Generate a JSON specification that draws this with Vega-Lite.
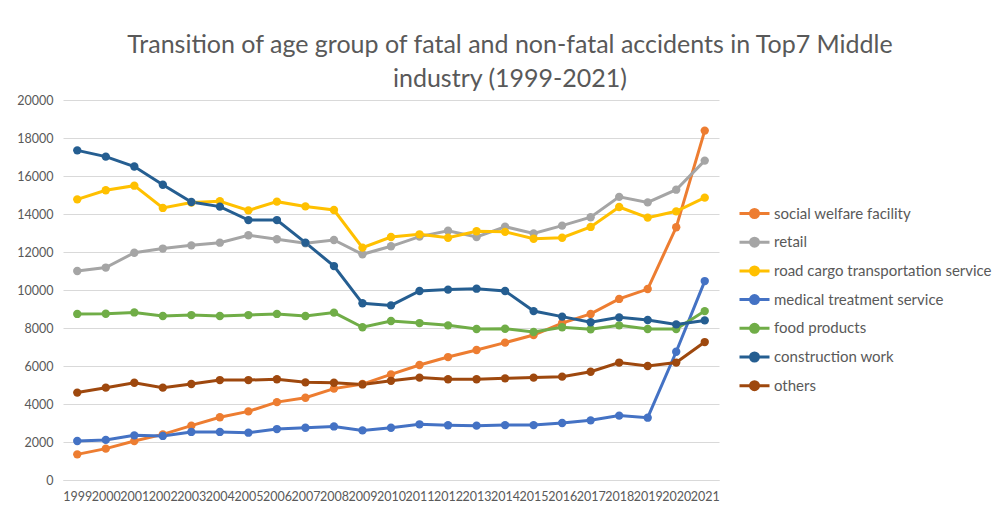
{
  "$schema": "https://vega.github.io/schema/vega-lite/v6.json",
  "autosize": "none",
  "width": 656,
  "height": 380,
  "padding": {"left": 63, "top": 100, "right": 281, "bottom": 33},
  "background": "white",
  "title": {
    "text": ["Transition of age group of fatal and non-fatal accidents in Top7 Middle", "industry (1999-2021)"],
    "anchor": "middle",
    "dx": 119,
    "offset": 2,
    "font": "Lato",
    "fontSize": 25,
    "fontWeight": "normal",
    "color": "#595959",
    "lineHeight": 34
  },
  "data": {
    "values": [
      {"year":"1999","industry":"social welfare facility","value":1350},
      {"year":"2000","industry":"social welfare facility","value":1650},
      {"year":"2001","industry":"social welfare facility","value":2050},
      {"year":"2002","industry":"social welfare facility","value":2400},
      {"year":"2003","industry":"social welfare facility","value":2860},
      {"year":"2004","industry":"social welfare facility","value":3300},
      {"year":"2005","industry":"social welfare facility","value":3610},
      {"year":"2006","industry":"social welfare facility","value":4100},
      {"year":"2007","industry":"social welfare facility","value":4330},
      {"year":"2008","industry":"social welfare facility","value":4810},
      {"year":"2009","industry":"social welfare facility","value":5050},
      {"year":"2010","industry":"social welfare facility","value":5560},
      {"year":"2011","industry":"social welfare facility","value":6050},
      {"year":"2012","industry":"social welfare facility","value":6470},
      {"year":"2013","industry":"social welfare facility","value":6840},
      {"year":"2014","industry":"social welfare facility","value":7230},
      {"year":"2015","industry":"social welfare facility","value":7630},
      {"year":"2016","industry":"social welfare facility","value":8260},
      {"year":"2017","industry":"social welfare facility","value":8740},
      {"year":"2018","industry":"social welfare facility","value":9530},
      {"year":"2019","industry":"social welfare facility","value":10050},
      {"year":"2020","industry":"social welfare facility","value":13300},
      {"year":"2021","industry":"social welfare facility","value":18390},
      {"year":"1999","industry":"retail","value":11000},
      {"year":"2000","industry":"retail","value":11180},
      {"year":"2001","industry":"retail","value":11960},
      {"year":"2002","industry":"retail","value":12180},
      {"year":"2003","industry":"retail","value":12350},
      {"year":"2004","industry":"retail","value":12490},
      {"year":"2005","industry":"retail","value":12880},
      {"year":"2006","industry":"retail","value":12670},
      {"year":"2007","industry":"retail","value":12460},
      {"year":"2008","industry":"retail","value":12630},
      {"year":"2009","industry":"retail","value":11880},
      {"year":"2010","industry":"retail","value":12300},
      {"year":"2011","industry":"retail","value":12810},
      {"year":"2012","industry":"retail","value":13120},
      {"year":"2013","industry":"retail","value":12790},
      {"year":"2014","industry":"retail","value":13330},
      {"year":"2015","industry":"retail","value":12980},
      {"year":"2016","industry":"retail","value":13390},
      {"year":"2017","industry":"retail","value":13830},
      {"year":"2018","industry":"retail","value":14900},
      {"year":"2019","industry":"retail","value":14610},
      {"year":"2020","industry":"retail","value":15280},
      {"year":"2021","industry":"retail","value":16810},
      {"year":"1999","industry":"road cargo transportation service","value":14770},
      {"year":"2000","industry":"road cargo transportation service","value":15250},
      {"year":"2001","industry":"road cargo transportation service","value":15490},
      {"year":"2002","industry":"road cargo transportation service","value":14320},
      {"year":"2003","industry":"road cargo transportation service","value":14600},
      {"year":"2004","industry":"road cargo transportation service","value":14670},
      {"year":"2005","industry":"road cargo transportation service","value":14190},
      {"year":"2006","industry":"road cargo transportation service","value":14650},
      {"year":"2007","industry":"road cargo transportation service","value":14400},
      {"year":"2008","industry":"road cargo transportation service","value":14210},
      {"year":"2009","industry":"road cargo transportation service","value":12230},
      {"year":"2010","industry":"road cargo transportation service","value":12790},
      {"year":"2011","industry":"road cargo transportation service","value":12930},
      {"year":"2012","industry":"road cargo transportation service","value":12750},
      {"year":"2013","industry":"road cargo transportation service","value":13090},
      {"year":"2014","industry":"road cargo transportation service","value":13060},
      {"year":"2015","industry":"road cargo transportation service","value":12700},
      {"year":"2016","industry":"road cargo transportation service","value":12750},
      {"year":"2017","industry":"road cargo transportation service","value":13320},
      {"year":"2018","industry":"road cargo transportation service","value":14370},
      {"year":"2019","industry":"road cargo transportation service","value":13810},
      {"year":"2020","industry":"road cargo transportation service","value":14140},
      {"year":"2021","industry":"road cargo transportation service","value":14860},
      {"year":"1999","industry":"medical treatment service","value":2050},
      {"year":"2000","industry":"medical treatment service","value":2110},
      {"year":"2001","industry":"medical treatment service","value":2350},
      {"year":"2002","industry":"medical treatment service","value":2320},
      {"year":"2003","industry":"medical treatment service","value":2530},
      {"year":"2004","industry":"medical treatment service","value":2530},
      {"year":"2005","industry":"medical treatment service","value":2490},
      {"year":"2006","industry":"medical treatment service","value":2680},
      {"year":"2007","industry":"medical treatment service","value":2750},
      {"year":"2008","industry":"medical treatment service","value":2820},
      {"year":"2009","industry":"medical treatment service","value":2610},
      {"year":"2010","industry":"medical treatment service","value":2750},
      {"year":"2011","industry":"medical treatment service","value":2930},
      {"year":"2012","industry":"medical treatment service","value":2880},
      {"year":"2013","industry":"medical treatment service","value":2860},
      {"year":"2014","industry":"medical treatment service","value":2890},
      {"year":"2015","industry":"medical treatment service","value":2890},
      {"year":"2016","industry":"medical treatment service","value":3000},
      {"year":"2017","industry":"medical treatment service","value":3140},
      {"year":"2018","industry":"medical treatment service","value":3390},
      {"year":"2019","industry":"medical treatment service","value":3280},
      {"year":"2020","industry":"medical treatment service","value":6750},
      {"year":"2021","industry":"medical treatment service","value":10470},
      {"year":"1999","industry":"food products","value":8740},
      {"year":"2000","industry":"food products","value":8750},
      {"year":"2001","industry":"food products","value":8820},
      {"year":"2002","industry":"food products","value":8630},
      {"year":"2003","industry":"food products","value":8680},
      {"year":"2004","industry":"food products","value":8630},
      {"year":"2005","industry":"food products","value":8680},
      {"year":"2006","industry":"food products","value":8740},
      {"year":"2007","industry":"food products","value":8630},
      {"year":"2008","industry":"food products","value":8810},
      {"year":"2009","industry":"food products","value":8040},
      {"year":"2010","industry":"food products","value":8370},
      {"year":"2011","industry":"food products","value":8260},
      {"year":"2012","industry":"food products","value":8140},
      {"year":"2013","industry":"food products","value":7950},
      {"year":"2014","industry":"food products","value":7960},
      {"year":"2015","industry":"food products","value":7790},
      {"year":"2016","industry":"food products","value":8040},
      {"year":"2017","industry":"food products","value":7930},
      {"year":"2018","industry":"food products","value":8140},
      {"year":"2019","industry":"food products","value":7950},
      {"year":"2020","industry":"food products","value":7950},
      {"year":"2021","industry":"food products","value":8890},
      {"year":"1999","industry":"construction work","value":17350},
      {"year":"2000","industry":"construction work","value":17020},
      {"year":"2001","industry":"construction work","value":16500},
      {"year":"2002","industry":"construction work","value":15540},
      {"year":"2003","industry":"construction work","value":14630},
      {"year":"2004","industry":"construction work","value":14390},
      {"year":"2005","industry":"construction work","value":13680},
      {"year":"2006","industry":"construction work","value":13680},
      {"year":"2007","industry":"construction work","value":12490},
      {"year":"2008","industry":"construction work","value":11260},
      {"year":"2009","industry":"construction work","value":9300},
      {"year":"2010","industry":"construction work","value":9190},
      {"year":"2011","industry":"construction work","value":9950},
      {"year":"2012","industry":"construction work","value":10020},
      {"year":"2013","industry":"construction work","value":10070},
      {"year":"2014","industry":"construction work","value":9950},
      {"year":"2015","industry":"construction work","value":8890},
      {"year":"2016","industry":"construction work","value":8600},
      {"year":"2017","industry":"construction work","value":8300},
      {"year":"2018","industry":"construction work","value":8560},
      {"year":"2019","industry":"construction work","value":8420},
      {"year":"2020","industry":"construction work","value":8190},
      {"year":"2021","industry":"construction work","value":8400},
      {"year":"1999","industry":"others","value":4600},
      {"year":"2000","industry":"others","value":4860},
      {"year":"2001","industry":"others","value":5120},
      {"year":"2002","industry":"others","value":4860},
      {"year":"2003","industry":"others","value":5050},
      {"year":"2004","industry":"others","value":5260},
      {"year":"2005","industry":"others","value":5260},
      {"year":"2006","industry":"others","value":5300},
      {"year":"2007","industry":"others","value":5140},
      {"year":"2008","industry":"others","value":5120},
      {"year":"2009","industry":"others","value":5030},
      {"year":"2010","industry":"others","value":5220},
      {"year":"2011","industry":"others","value":5390},
      {"year":"2012","industry":"others","value":5300},
      {"year":"2013","industry":"others","value":5300},
      {"year":"2014","industry":"others","value":5350},
      {"year":"2015","industry":"others","value":5390},
      {"year":"2016","industry":"others","value":5440},
      {"year":"2017","industry":"others","value":5700},
      {"year":"2018","industry":"others","value":6180},
      {"year":"2019","industry":"others","value":6000},
      {"year":"2020","industry":"others","value":6180},
      {"year":"2021","industry":"others","value":7260}
    ]
  },
  "mark": {"type": "line", "strokeWidth": 3, "point": {"filled": true, "size": 70}},
  "encoding": {
    "x": {
      "field": "year", "type": "ordinal",
      "scale": {"type": "point", "padding": 0.5},
      "axis": {
        "title": null, "labelAngle": 0, "ticks": false, "labelPadding": 10,
        "labelFont": "Lato", "labelFontSize": 12.5, "labelColor": "#595959",
        "domainColor": "#d9d9d9", "domainWidth": 1, "grid": false
      }
    },
    "y": {
      "field": "value", "type": "quantitative",
      "scale": {"domain": [0, 20000], "nice": false},
      "axis": {
        "title": null, "values": [0,2000,4000,6000,8000,10000,12000,14000,16000,18000,20000],
        "format": "d", "ticks": false, "domain": false, "labelPadding": 10,
        "labelFont": "Lato", "labelFontSize": 12.5, "labelColor": "#595959",
        "grid": true, "gridColor": "#d9d9d9", "gridWidth": 1
      }
    },
    "color": {
      "field": "industry", "type": "nominal",
      "scale": {
        "domain": ["social welfare facility", "retail", "road cargo transportation service", "medical treatment service", "food products", "construction work", "others"],
        "range": ["#ED7D31", "#A5A5A5", "#FFC000", "#4472C4", "#70AD47", "#255E91", "#9E480E"]
      },
      "legend": {
        "title": null, "orient": "none", "legendX": 684, "legendY": 106,
        "symbolType": "M-3,0H3M-0.8,0A0.8,0.8 0 1,0 0.8,0A0.8,0.8 0 1,0 -0.8,0Z",
        "symbolSize": 100, "symbolStrokeWidth": 3, "symbolFillColor": null,
        "labelOffset": 12, "labelFont": "Lato", "labelFontSize": 15, "labelColor": "#595959",
        "rowPadding": 7.7, "labelLimit": 400
      }
    }
  },
  "config": {"view": {"stroke": null}}
}
